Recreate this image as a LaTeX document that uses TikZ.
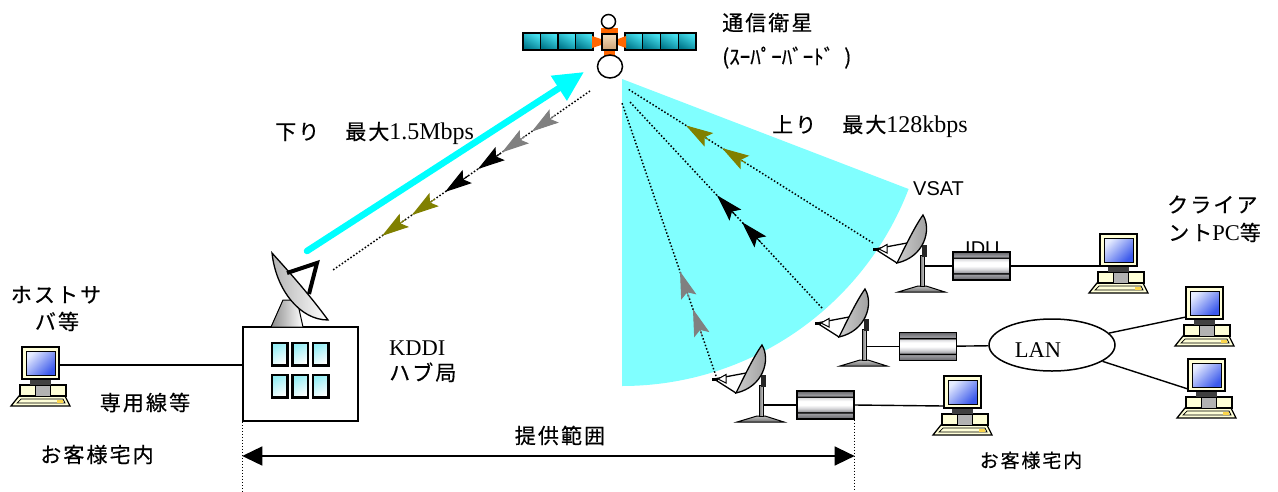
\documentclass[tikz,border=0pt]{standalone}
\usepackage{fontspec}
\setmainfont{Liberation Serif}
\newfontfamily\jp{Noto Sans CJK JP}[LetterSpace=10, FakeBold=0.5]
\newfontfamily\jpn{Noto Sans CJK JP}[FakeBold=0.5]
\newfontfamily\arialf{Liberation Sans}
\usetikzlibrary{arrows.meta,calc,shapes.geometric}

\definecolor{fancyan}{RGB}{128,255,255}
\definecolor{beamcyan}{RGB}{0,255,255}
\definecolor{olivec}{RGB}{128,128,0}
\definecolor{grayc}{RGB}{128,128,128}
\definecolor{pccream}{RGB}{255,255,215}
\definecolor{scrblue}{RGB}{60,90,235}
\definecolor{scrlight}{RGB}{230,236,255}
\definecolor{panelA}{RGB}{0,120,140}
\definecolor{panelB}{RGB}{70,225,240}
\definecolor{orangec}{RGB}{255,102,0}
\definecolor{bodyA}{RGB}{245,222,190}
\definecolor{bodyB}{RGB}{205,160,115}
\definecolor{winA}{RGB}{150,238,245}
\definecolor{iduDark}{RGB}{100,100,105}
\definecolor{iduMid}{RGB}{160,160,165}
\definecolor{iduLight}{RGB}{215,215,218}

% banded metal look of the indoor units
\pgfdeclareverticalshading{idushade}{100bp}{%
  color(0bp)=(iduDark); color(25bp)=(iduDark); color(35bp)=(iduMid);
  color(36bp)=(black); color(37.5bp)=(black); color(38.5bp)=(iduMid);
  color(44bp)=(iduLight); color(50bp)=(white); color(57bp)=(white);
  color(63bp)=(iduLight); color(64bp)=(black); color(65.5bp)=(black);
  color(66.5bp)=(iduMid); color(75bp)=(iduDark); color(100bp)=(iduDark)}

\newcommand{\lattxt}[2][22.5pt]{{\fontsize{#1}{26pt}\selectfont\rmfamily #2}}

\tikzset{
  jt/.style={font=\fontsize{21pt}{24pt}\selectfont\jp, inner sep=0pt},
  lt/.style={font=\fontsize{22.5pt}{26pt}\selectfont\rmfamily, inner sep=0pt},
  st/.style={font=\fontsize{20pt}{24pt}\selectfont\arialf, inner sep=0pt},
  conn/.style={line width=1.4pt},
  dotln/.style={line width=1.5pt, dash pattern=on 1.5pt off 2pt},
  vdot/.style={line width=1pt, dash pattern=on 1pt off 2pt},
  headarrow/.style={line width=1pt, -{Stealth[length=27pt, width=16pt, inset=5pt]}},
  rangearrow/.style={line width=1.4pt, {Triangle[length=20pt,width=19pt]}-{Triangle[length=20pt,width=19pt]}},
  idu/.style={shade, shading=idushade, draw, line width=1.3pt, minimum width=57pt, minimum height=28pt, inner sep=0pt},
  win/.style={line width=2.2pt, top color=winA, bottom color=white, shading angle=30},
  cell/.style={line width=1.3pt, top color=panelB, bottom color=panelA, shading angle=-30},
  pc/.pic={
    \coordinate (-e) at (37,18);
    \coordinate (-sw) at (0,30);
    \draw[line width=1.3pt, fill=pccream] (-3,49) -- (43,49) -- (48,59) -- (-11,59) -- cycle;
    \draw[line width=0.7pt] (-1,52) -- (41,52) -- (43,56) -- (-5,56) -- cycle;
    \fill[yellow!60!orange!70] (35,53) rectangle (41,55.5);
    \draw[line width=1.3pt, fill=pccream] (-2,38) rectangle (44,49);
    \draw[line width=0.8pt, fill=black!30] (13,38) rectangle (28,49);
    \fill[black!75] (8,32) rectangle (29,37.5);
    \draw[line width=1.5pt, fill=pccream] (0,0) rectangle (37,32);
    \draw[line width=0.8pt, top color=scrlight, bottom color=scrblue, shading angle=45] (4,4) rectangle (33,28);
  },
  vsat/.pic={
    \coordinate (-pole) at (1,-26);
    \coordinate (-feed) at (-48,-43);
    \draw[line width=1pt, top color=black!25, bottom color=black!55] (-25,0) -- (22,0) -- (3,-6) -- (-5,-6) -- cycle;
    \draw[line width=1pt, left color=black!55, right color=black!20] (-3,-6) rectangle (1,-37);
    \fill[black!85] (-1,-47) rectangle (4,-35);
    \draw[line width=1.3pt] (-48,-43) -- (-16,-49);
    \draw[line width=1.3pt] (-48,-43) -- (-26,-29);
    \draw[line width=1pt, fill=white] (-44,-43) -- (-36,-47.5) -- (-36,-39) -- cycle;
    \fill (-50,-44.5) rectangle (-44,-41.5);
    \draw[line width=1.3pt, left color=black!20, middle color=white, right color=black!40]
      (0,-77) .. controls (9,-62) and (1,-35) .. (-26,-29)
      .. controls (-18,-45) and (-8,-66) .. cycle;
  }
}

\begin{document}
\begin{tikzpicture}[x=1pt, y=-1pt]
\useasboundingbox (0,0) rectangle (1278,491);
\fill[white] (0,0) rectangle (1278,491);

% coverage fan of the uplink
\coordinate (fanapex) at (622,79);
\fill[fancyan] (fanapex) -- ++(21:307) arc[start angle=21, end angle=90, radius=307] -- cycle;

% link paths
\coordinate (dn0) at (590,91);  \coordinate (dn1) at (333,270);
\coordinate (upA0) at (873,243); \coordinate (upA1) at (628,89);
\coordinate (upB0) at (822,308); \coordinate (upB1) at (630,102);
\coordinate (upC0) at (716,376); \coordinate (upC1) at (622,103);
\draw[dotln] (dn0) -- (dn1);
\draw[dotln] (upA0) -- (upA1);
\draw[dotln] (upB0) -- (upB1);
\draw[dotln] (upC0) -- (upC1);

\foreach \a/\b/\c in {0.136/0.226/grayc, 0.252/0.342/grayc, 0.346/0.436/black,
                      0.474/0.564/black, 0.603/0.693/olivec, 0.719/0.809/olivec}
  \draw[headarrow, \c] ($(dn0)!\a!(dn1)$) -- ($(dn0)!\b!(dn1)$);
\foreach \a/\b in {0.520/0.616, 0.667/0.763}
  \draw[headarrow, olivec] ($(upA0)!\a!(upA1)$) -- ($(upA0)!\b!(upA1)$);
\foreach \a/\b in {0.318/0.417, 0.448/0.547}
  \draw[headarrow, black] ($(upB0)!\a!(upB1)$) -- ($(upB0)!\b!(upB1)$);
\foreach \a/\b in {0.148/0.245, 0.286/0.383}
  \draw[headarrow, grayc] ($(upC0)!\a!(upC1)$) -- ($(upC0)!\b!(upC1)$);

% downlink beam
\coordinate (beam0) at (307,251); \coordinate (beam1) at (584,72);
\draw[beamcyan, line width=6.5pt, line cap=round, -{Triangle[length=30pt,width=28pt]}] (beam0) -- (beam1);

% satellite
\foreach \i in {0,...,3}{
  \draw[cell] ({523+\i*17.5},33) rectangle ++(17.5,17);
  \draw[cell] ({625+\i*17.75},33) rectangle ++(17.75,17);
}
\fill[orangec] (592,36) -- (601,39) -- (601,45) -- (592,48) -- cycle;
\fill[orangec] (618,39) -- (626,36) -- (626,48) -- (618,45) -- cycle;
\fill[orangec] (601,28) rectangle (618,34);
\fill[orangec] (604,49) rectangle (615,56);
\draw[line width=1.3pt, top color=bodyA, bottom color=bodyB] (602,34) rectangle (617,50);
\draw[line width=1.5pt, fill=white] (608.5,21.5) circle[radius=7];
\draw[line width=1.5pt, fill=white] (610,66.5) ellipse[x radius=12.5, y radius=11.5];

% hub station
\node[draw, line width=1.5pt, fill=white, minimum width=115pt, minimum height=94pt, inner sep=0pt] (hub) at (300.5,374) {};
\foreach \x in {272,292.5,313}
  \foreach \y in {343,375}
    \draw[win] (\x,\y) rectangle ++(15.5,22.5);
\draw[line width=1pt, left color=black!45, right color=white] (271,327) -- (283,300) -- (297,300) -- (303,327) -- cycle;
\draw[line width=1.3pt, left color=black!30, right color=white]
  (272,253) .. controls (276,290) and (300,320) .. (328,320)
  .. controls (312,298) and (292,275) .. cycle;
\draw[line width=4pt, line join=miter] (287,273) -- (317,263) -- (309,294);

% remote terminals
\pic (v1) at (923,292) {vsat};
\pic (v2) at (865,366) {vsat};
\pic (v3) at (762,422) {vsat};

\node[st, anchor=base west] (tidu) at (965,255) {IDU};
\node[idu] (idu1) at (981.5,266) {};
\node[idu] (idu2) at (928,346.5) {};
\node[idu] (idu3) at (825.5,405) {};

\node[draw, ellipse, line width=1.5pt, minimum width=126pt, minimum height=52pt, inner sep=0pt] (lan) at (1052,345) {};

% terminals
\pic (host) at (22,347) {pc};
\pic (pc1) at (1100,234) {pc};
\pic (pc2) at (944,376) {pc};
\pic (pc3) at (1186,287) {pc};
\pic (pc4) at (1188,359) {pc};

% wiring
\draw[conn] (host-e) -- (host-e -| hub.west);
\draw[conn] (v1-pole |- idu1.west) -- (idu1.west);
\draw[conn] (v2-pole |- idu2.west) -- (idu2.west);
\draw[conn] (v3-pole |- idu3.west) -- (idu3.west);
\draw[conn] (idu1.east) -- (idu1.east -| pc1-sw);
\draw[conn] (idu2) -- (lan);
\draw[conn] (idu3.east) -- (pc2-sw);
\draw[conn] (lan) -- (pc3-sw);
\draw[conn] (lan) -- (pc4-sw);

% service range
\coordinate (bottomrow) at (0,491);
\coordinate (arrowrow) at (0,456);
\draw[vdot] (hub.south west) -- (hub.south west |- bottomrow);
\draw[vdot] (idu3.south east) -- (idu3.south east |- bottomrow);
\draw[rangearrow] (hub.south west |- arrowrow) -- (idu3.south east |- arrowrow);

% labels
\node[jt, anchor=base west] (tsat) at (722,30.5) {通信衛星};
\node[font=\fontsize{21pt}{24pt}\selectfont\jpn, inner sep=0pt, anchor=base west] (tsat2) at (722,64.5) {(ｽｰﾊﾟｰﾊﾞｰﾄﾞ\hspace{10pt})};
\node[jt, anchor=base west] (tdown) at (275,139.5) {下り\hspace{26pt}最大\lattxt[24pt]{1.5Mbps}};
\node[jt, anchor=base west] (tup) at (772,132.5) {上り\hspace{26pt}最大\lattxt[24pt]{128kbps}};
\node[st, anchor=base west] (tvsat) at (913,195) {VSAT};
\node[jt, anchor=base west] (tcl1) at (1167,212.5) {クライア};
\node[jt, anchor=base west] (tcl2) at (1168,240.5) {ント\lattxt{PC}等};
\node[jt, anchor=base] (thost1) at (56,302.5) {ホストサ};
\node[jt, anchor=base] (thost2) at (57,329.5) {バ等};
\node[jt, anchor=base] (tline) at (145,410.5) {専用線等};
\node[jt, anchor=base] (tcustL) at (97,462.5) {お客様宅内};
\node[lt, anchor=base west] (tkddi) at (389,355.5) {KDDI};
\node[jt, anchor=base west] (thub) at (389,380.5) {ハブ局};
\node[jt, anchor=base] (trange) at (560,443.5) {提供範囲};
\node[jt, anchor=base, font=\fontsize{19pt}{24pt}\selectfont\jp] (tcustR) at (1031,467.5) {お客様宅内};
\node[lt, anchor=base] (tlan) at (1038,357) {LAN};
\end{tikzpicture}
\end{document}
